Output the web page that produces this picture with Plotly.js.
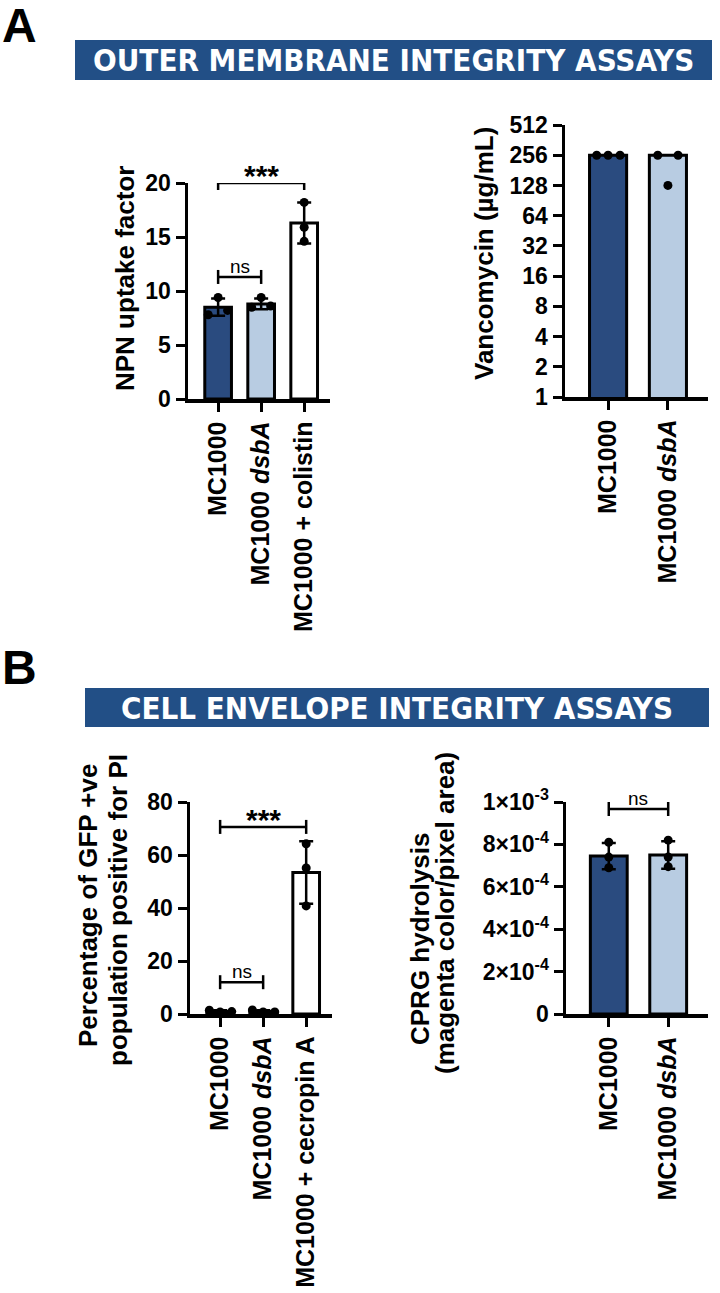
<!DOCTYPE html>
<html>
<head>
<meta charset="utf-8">
<script src="https://cdn.plot.ly/plotly-3.0.1.min.js"></script>
<style>
  html, body { margin: 0; padding: 0; background: #fff; }
  #fig { width: 720px; height: 1293px; }
</style>
</head>
<body>
<div id="fig"></div>
<script>
// ---- data ----
var npnLabels = ['MC1000', 'MC1000 <i>dsbA</i>', 'MC1000 + colistin'];
var npnMean = [8.5, 8.8, 16.3];
var npnSD = [0.8, 0.5, 1.9];
var npnPoints = [[9.4, 7.8, 8.2], [9.4, 8.5, 8.6], [18.2, 15.9, 14.6]];

var vancoLabels = ['MC1000', 'MC1000 <i>dsbA</i>'];
var vancoMic = [256, 256];
var vancoPoints = [[256, 256, 256], [256, 256, 128]];
var vancoTicks = [1, 2, 4, 8, 16, 32, 64, 128, 256, 512];

var piLabels = ['MC1000', 'MC1000 <i>dsbA</i>', 'MC1000 + cecropin A'];
var piMean = [1.0, 1.0, 53.4];
var piSD = [0.4, 0.4, 11.8];
var piPoints = [[1.4, 0.8, 0.9], [1.5, 0.8, 0.8], [64.2, 55.1, 40.8]];

var cprgLabels = ['MC1000', 'MC1000 <i>dsbA</i>'];
var cprgMean = [7.45e-4, 7.5e-4];
var cprgSD = [0.62e-4, 0.65e-4];
var cprgPoints = [[8.1e-4, 7.4e-4, 6.9e-4], [8.2e-4, 7.4e-4, 6.95e-4]];
var cprgTicks = [0, 2e-4, 4e-4, 6e-4, 8e-4, 1e-3];
var cprgTickText = ['0', '2×10<sup>-4</sup>', '4×10<sup>-4</sup>', '6×10<sup>-4</sup>', '8×10<sup>-4</sup>', '1×10<sup>-3</sup>'];

// ---- style ----
var W = 720, H = 1293;
var DARK = '#2a4b7f', LIGHT = '#b8cce2', BANNER = '#224f86';
var FONT = 'Liberation Sans, Arial, sans-serif';
function fx(p) { return p / W; }
function fy(p) { return 1 - p / H; }

// horizontal spread of dots within a bar (Prism-style)
var npnOff = [[0, -0.23, 0.22], [0, -0.22, 0.22], [0, 0, 0]];
var vancoOff = [[-0.19, 0, 0.2], [-0.17, 0.17, 0]];
var piOff = [[-0.25, 0, 0.27], [-0.25, 0, 0.27], [0, 0, 0]];
var cprgOff = [[0, 0, 0], [0, 0, 0]];

var data = [];
var colors3 = [DARK, LIGHT, '#ffffff'];

function addPanel(n, mean, sd, pts, off) {
  var xs = mean.map(function (_, i) { return i; });
  var bar = {
    type: 'bar', x: xs, y: mean, width: 0.62,
    xaxis: 'x' + n, yaxis: 'y' + n,
    marker: { color: colors3.slice(0, mean.length), line: { color: '#000', width: 3 } },
    hoverinfo: 'skip', showlegend: false
  };
  if (sd) bar.error_y = { type: 'data', array: sd, visible: true, color: '#000', thickness: 2.5, width: 7 };
  data.push(bar);
  var px = [], py = [];
  pts.forEach(function (g, i) {
    g.forEach(function (v, j) { px.push(i + off[i][j]); py.push(v); });
  });
  data.push({
    type: 'scatter', mode: 'markers', x: px, y: py,
    xaxis: 'x' + n, yaxis: 'y' + n,
    marker: { color: '#000', size: 9 },
    hoverinfo: 'skip', showlegend: false, cliponaxis: false
  });
}
addPanel('', npnMean, npnSD, npnPoints, npnOff);
addPanel('2', vancoMic, null, vancoPoints, vancoOff);
addPanel('3', piMean, piSD, piPoints, piOff);
addPanel('4', cprgMean, cprgSD, cprgPoints, cprgOff);

function xAxis(dom, labels, rng, anchor) {
  return {
    domain: [fx(dom[0]), fx(dom[1])], anchor: anchor, range: rng,
    tickvals: labels.map(function (_, i) { return i; }), ticktext: labels,
    tickangle: -90, ticks: 'outside', ticklen: 9, tickwidth: 3, tickcolor: '#000',
    showline: true, linewidth: 3.5, linecolor: '#000', showgrid: false, zeroline: false,
    tickfont: { family: FONT, size: 25, color: '#000', weight: 'bold' }, fixedrange: true
  };
}
function yAxis(dom, anchor, extra) {
  var a = {
    domain: [fy(dom[1]), fy(dom[0])], anchor: anchor,
    ticks: 'outside', ticklen: 9, tickwidth: 3, tickcolor: '#000',
    showline: true, linewidth: 3.5, linecolor: '#000', showgrid: false, zeroline: false,
    tickfont: { family: FONT, size: 23, color: '#000', weight: 'bold' }, fixedrange: true
  };
  for (var k in extra) a[k] = extra[k];
  return a;
}

var layout = {
  width: W, height: H, margin: { l: 0, r: 0, t: 0, b: 0 },
  paper_bgcolor: '#fff', plot_bgcolor: 'rgba(0,0,0,0)',
  bargap: 0,
  xaxis: xAxis([188, 330], npnLabels, [-0.7, 2.6], 'y'),
  yaxis: yAxis([183, 399], 'x', { range: [0, 20], dtick: 5 }),
  xaxis2: xAxis([565, 708], vancoLabels, [-0.72, 1.67], 'y2'),
  yaxis2: yAxis([125, 397], 'x2', { type: 'log', range: [0, Math.log10(512)], tickvals: vancoTicks, ticktext: vancoTicks.map(String) }),
  xaxis3: xAxis([190, 332], piLabels, [-0.7, 2.6], 'y3'),
  yaxis3: yAxis([802, 1014], 'x3', { range: [0, 80], dtick: 20 }),
  xaxis4: xAxis([566, 708], cprgLabels, [-0.72, 1.67], 'y4'),
  yaxis4: yAxis([802, 1014], 'x4', { range: [0, 1e-3], tickvals: cprgTicks, ticktext: cprgTickText }),
  shapes: [],
  annotations: []
};

// banners and panel letters
function banner(x0, x1, y0, y1, text) {
  layout.shapes.push({ type: 'rect', xref: 'paper', yref: 'paper', x0: fx(x0), x1: fx(x1), y0: fy(y1), y1: fy(y0),
    fillcolor: BANNER, line: { width: 0 }, layer: 'below' });
  layout.annotations.push({ xref: 'paper', yref: 'paper', x: fx((x0 + x1) / 2), y: fy((y0 + y1) / 2),
    xanchor: 'center', yanchor: 'middle', showarrow: false, text: text,
    font: { family: 'DejaVu Sans Condensed, ' + FONT, size: 31, color: '#fff', weight: 'bold' } });
}
banner(75, 712, 40, 80, 'OUTER MEMBRANE INTEGRITY ASSAYS');
banner(85, 709, 688, 727, 'CELL ENVELOPE INTEGRITY ASSAYS');

function letter(t, x, y) {
  layout.annotations.push({ xref: 'paper', yref: 'paper', x: fx(x), y: fy(y), xanchor: 'left', yanchor: 'top',
    showarrow: false, text: t, font: { family: FONT, size: 48, color: '#000', weight: 'bold' } });
}
letter('A', 0, -3);
letter('B', 0, 639);

// rotated y titles
function ytitle(t, x, y) {
  layout.annotations.push({ xref: 'paper', yref: 'paper', x: fx(x), y: fy(y), xanchor: 'center', yanchor: 'middle',
    textangle: -90, showarrow: false, text: t, font: { family: FONT, size: 26, color: '#000', weight: 'bold' } });
}
ytitle('NPN uptake factor', 125, 279);
ytitle('Vancomycin (µg/mL)', 484, 254);
ytitle('Percentage of GFP +ve', 88, 906);
ytitle('population positive for PI', 118, 910);
ytitle('CPRG hydrolysis', 420, 939);
ytitle('(magenta color/pixel area)', 445, 913);

// significance brackets
function bracket(n, a, b, yv, label, big) {
  var xr = 'x' + n, yr = 'y' + n;
  layout.shapes.push({ type: 'line', xref: xr, yref: yr, x0: a, x1: b, y0: yv, y1: yv, line: { color: '#000', width: 2.5 } });
  [a, b].forEach(function (xx) {
    layout.shapes.push({ type: 'line', xref: xr, yref: yr, x0: xx, x1: xx, ysizemode: 'pixel', yanchor: yv, y0: -7, y1: 7,
      line: { color: '#000', width: 2.5 } });
  });
  layout.annotations.push({ xref: xr, yref: yr, x: (a + b) / 2, y: yv, yanchor: 'bottom', yshift: big ? -11 : -2, showarrow: false,
    text: label, font: { family: FONT, size: big ? 30 : 19, color: '#000', weight: big ? 'bold' : 'normal' } });
}
bracket('', 0, 2, 20, '***', true);
bracket('', 0, 1, 11.3, 'ns', false);
bracket('3', 0, 2, 70.6, '***', true);
bracket('3', 0, 1, 12, 'ns', false);
bracket('4', 0, 1, 9.67e-4, 'ns', false);

Plotly.newPlot('fig', data, layout, { displayModeBar: false, staticPlot: true });
</script>
</body>
</html>
